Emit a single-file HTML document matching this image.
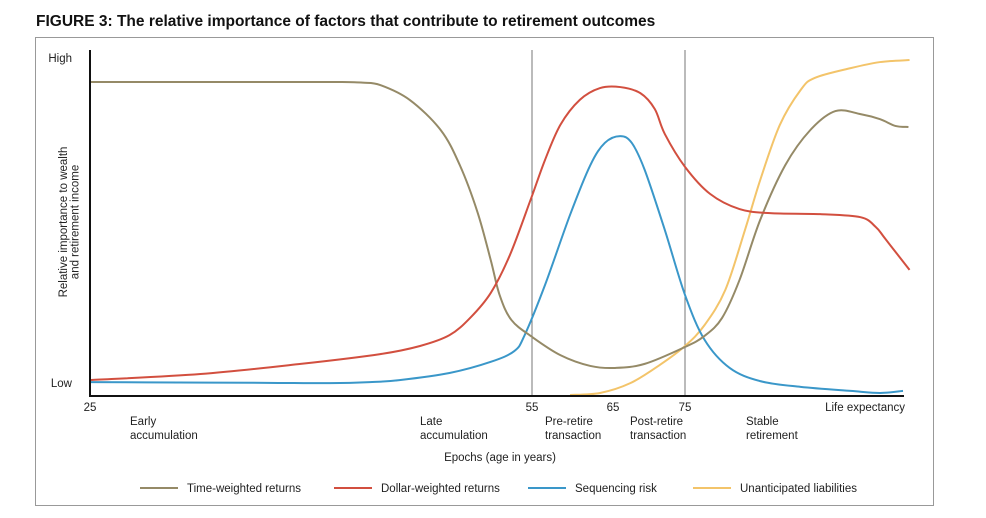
<!DOCTYPE html>
<html><head><meta charset="utf-8">
<style>
html,body{margin:0;padding:0;background:#fff;}
body{width:986px;height:518px;overflow:hidden;font-family:"Liberation Sans",sans-serif;}
</style></head>
<body>
<svg id="chart" width="986" height="518" style="position:absolute;left:0;top:0">
<text x="36" y="26" font-size="15.5" font-weight="bold" fill="#111">FIGURE 3: The relative importance of factors that contribute to retirement outcomes</text>
<rect x="35.5" y="37.5" width="898" height="468" fill="none" stroke="#999" stroke-width="1"/>
<g id="plot"></g>
</svg>
<script>
const tickAges=[25,55,65,75];
const tickLabels=["25","55","65","75"];
const epochNames=[["Early","accumulation"],["Late","accumulation"],["Pre-retire","transaction"],["Post-retire","transaction"],["Stable","retirement"]];
const timeAges=[25,30,36,40,42,43.5,44.7,46.7,48.8,50.1,51.3,52.2,52.8,53.6,55,58.5,62.2,65.3,69.4,75,76.8,78.4,80,81.9,84.2,86.5,88.8,91.1,92.9,94.3,95.5];
const timeVals=[92.9,92.9,92.9,92.9,92.9,92.7,92,87.6,78.7,68.3,54.4,40.2,29.9,22.5,17.5,12.1,8.9,8.3,9.5,14.5,17.8,23.1,34.3,52.1,68.3,78.7,84.3,83.4,81.9,79.9,79.6];
const dollarAges=[25,32.5,39.3,44.7,47.4,49.4,50.8,52.2,53.5,54.9,56.6,58.5,60.9,63.4,66,68.8,70.8,72.2,75,77.3,80,82.8,87.4,91.1,92.5,93.4,95.6];
const dollarVals=[4.7,6.5,9.5,12.4,14.8,18,23.1,30.5,41.7,58,69.8,80.2,87.6,91.1,91.4,89.6,84.9,77.5,67.8,59.8,55.3,54.1,53.8,52.9,50,46.4,37.3];
const seqAges=[25,31,37,41.3,44,46,49.4,52.2,53.8,54.5,56.6,59.7,62.2,64,66,67.6,69.4,72.2,75,76.8,79.1,81.9,85.6,90.2,92.9,95];
const seqVals=[4.1,4,3.9,3.8,4.1,4.7,6.8,10.1,13.3,18,32.8,53.6,68.3,74.9,76.9,74.9,66.9,49.1,29.9,16.6,8.3,4.4,2.7,1.5,0.9,1.5];
const liabAges=[59.7,63.4,67.4,71.5,75,76.8,78.7,80.5,81.9,83.7,85.6,86.9,90.2,92.9,95.6];
const liabVals=[0.3,0.9,3.8,9.2,14.8,21,31.4,49.1,63.9,80.2,90.5,94.1,97,98.8,99.4];

const NS="http://www.w3.org/2000/svg";
const g=document.getElementById('plot');
const bA=[25,55,65,75,95], bP=[90,532,613,685,903];
function xs(a){let i=0;while(i<bA.length-2&&a>bA[i+1])i++;return bP[i]+(a-bA[i])/(bA[i+1]-bA[i])*(bP[i+1]-bP[i]);}
function ys(v){return 396-v*3.38;}
function mk(t,at){const e=document.createElementNS(NS,t);for(const k in at)e.setAttribute(k,at[k]);g.appendChild(e);return e;}
function txt(x,y,s,anchor,size){const e=mk('text',{x:x,y:y,'font-size':size||11.5,fill:'#222','text-anchor':anchor||'start'});e.textContent=s;return e;}

[55,75].forEach(a=>{const l=mk('line',{x1:xs(a),x2:xs(a),y1:50,y2:396,stroke:'#555','stroke-width':0.8});

});

function path(ages,vals,color,name){
  const p=ages.map((a,i)=>[xs(a),ys(vals[i])]);
  let d='M'+p[0][0]+','+p[0][1];
  for(let i=0;i<p.length-1;i++){
    const p0=p[i-1]||p[i],p1=p[i],p2=p[i+1],p3=p[i+2]||p2;
    const c1=[p1[0]+(p2[0]-p0[0])/6,p1[1]+(p2[1]-p0[1])/6];
    const c2=[p2[0]-(p3[0]-p1[0])/6,p2[1]-(p3[1]-p1[1])/6];
    d+=' C'+c1+' '+c2+' '+p2;
  }
  const e=mk('path',{d:d,fill:'none',stroke:color,'stroke-width':2});
  
  
}
path(liabAges,liabVals,'#f3c46a','line-unanticipated-liabilities');
path(seqAges,seqVals,'#3a97c9','line-sequencing-risk');
path(timeAges,timeVals,'#958a67','line-time-weighted-returns');
path(dollarAges,dollarVals,'#d24f3f','line-dollar-weighted-returns');

let ax=mk('line',{x1:90,x2:90,y1:50,y2:397,stroke:'#111','stroke-width':2});


ax=mk('line',{x1:89,x2:904,y1:396,y2:396,stroke:'#111','stroke-width':2});



let t=txt(72,62,'High','end');


t=txt(72,387,'Low','end');


t=mk('text',{transform:'translate(67,222) rotate(-90)','font-size':11.5,fill:'#222','text-anchor':'middle'});
t.innerHTML='<tspan x="0" dy="0">Relative importance to wealth</tspan><tspan x="0" dy="11.5">and retirement income</tspan>';



tickAges.forEach((a,i)=>{const e=txt(xs(a),411,tickLabels[i],'middle');

});
t=txt(905,411,'Life expectancy','end');



const epochX=[130,420,545,630,746];
epochNames.forEach((n,i)=>{const e=mk('text',{x:epochX[i],y:425,'font-size':11.5,fill:'#222'});
e.innerHTML='<tspan x="'+epochX[i]+'">'+n[0]+'</tspan><tspan x="'+epochX[i]+'" dy="14">'+n[1]+'</tspan>';

});
t=txt(500,461,'Epochs (age in years)','middle');



const legNames=['Time-weighted returns','Dollar-weighted returns','Sequencing risk','Unanticipated liabilities'];
const legColors=['#958a67','#d24f3f','#3a97c9','#f3c46a'];
const legX=[140,334,528,693];
legNames.forEach((n,i)=>{
  const l=mk('line',{x1:legX[i],x2:legX[i]+38,y1:488,y2:488,stroke:legColors[i],'stroke-width':2});
  
  
  const e=txt(legX[i]+47,492,n,'start');
  
  
});
</script>
</body></html>
